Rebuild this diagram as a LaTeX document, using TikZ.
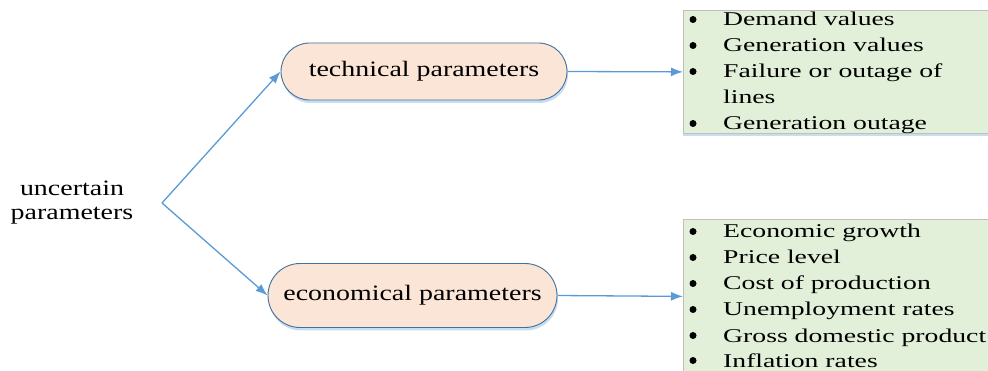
\documentclass[tikz,border=0pt]{standalone}
\usepackage{fontspec}
\setmainfont{Liberation Serif}
\newfontfamily\pillfont[FakeStretch=1.27]{Liberation Serif}
\newfontfamily\listfont[FakeStretch=1.42]{Liberation Serif}
\usetikzlibrary{arrows.meta,shadows}
\definecolor{pillfill}{HTML}{FBE5D6}
\definecolor{pillline}{HTML}{41719C}
\definecolor{arrowc}{HTML}{5B9BD5}
\definecolor{boxfill}{HTML}{E2F0D9}
\definecolor{boxline}{HTML}{BFBFBF}
\definecolor{shadowc}{HTML}{C9DDF2}
\tikzset{
  pill/.style={draw=pillline, line width=0.9pt, fill=pillfill, rounded corners=#1,
    font=\pillfont\fontsize{22}{26}\selectfont, inner sep=0pt,
    drop shadow={shadow xshift=1pt, shadow yshift=-3pt, fill=shadowc, opacity=1}},
  listbox/.style={draw=boxline, line width=0.8pt, fill=boxfill, inner sep=0pt,
    drop shadow={shadow xshift=0pt, shadow yshift=-2.5pt, fill=shadowc, opacity=1}},
  item/.style={anchor=base west, inner sep=0pt, font=\listfont\fontsize{19.5}{22}\selectfont},
  bul/.style={circle, fill=black, inner sep=0pt, minimum size=7pt},
  conn/.style={draw=arrowc, line width=1.3pt, -{Latex[length=12pt,width=9pt]}},
}
\begin{document}
\begin{tikzpicture}[x=1pt,y=-1pt]
\clip (0,0) rectangle (988,371);
\fill[white] (0,0) rectangle (988,371);
% list boxes
\node[listbox, minimum width=330pt, minimum height=123pt, anchor=north west] (box1) at (683,10) {};
\node[listbox, minimum width=330pt, minimum height=154pt, anchor=north west] (box2) at (683,219) {};
% pills
\node[pill=28.5pt, minimum width=286pt, minimum height=57pt] (tech) at (424,71.5) {technical parameters};
\node[pill=32pt, minimum width=289pt, minimum height=64pt] (econ) at (412.5,295.5) {economical parameters};
% root
\node[align=center, font=\pillfont\fontsize{22}{26}\selectfont, inner sep=0pt] (root) at (72,203) {uncertain\\[-2pt]parameters};
\coordinate (br) at (162,203);
\path[conn] (br) -- (tech.west);
\path[conn] (br) -- (econ.west);
\path[conn] (tech.east) -- (box1.west);
\path[conn] (econ.east) -- (box2.west);
% top list
\foreach \t/\yb/\b [count=\i] in {Demand values/26/1, Generation values/52/1, Failure or outage of/78/1, lines/104/0, Generation outage/130/1}{
  \node[item] (ta\i) at (723,\yb) {\t};
  \ifnum\b=1 \node[bul] (tb\i) at (693,\yb-6.5) {};\fi
}
% bottom list
\foreach \t/\yb [count=\i] in {Economic growth/238, Price level/264, Cost of production/290, Unemployment rates/316, Gross domestic product/342, Inflation rates/367}{
  \node[item] (ba\i) at (723,\yb) {\t};
  \node[bul] (bb\i) at (693,\yb-6.5) {};
}
\end{tikzpicture}
\end{document}
